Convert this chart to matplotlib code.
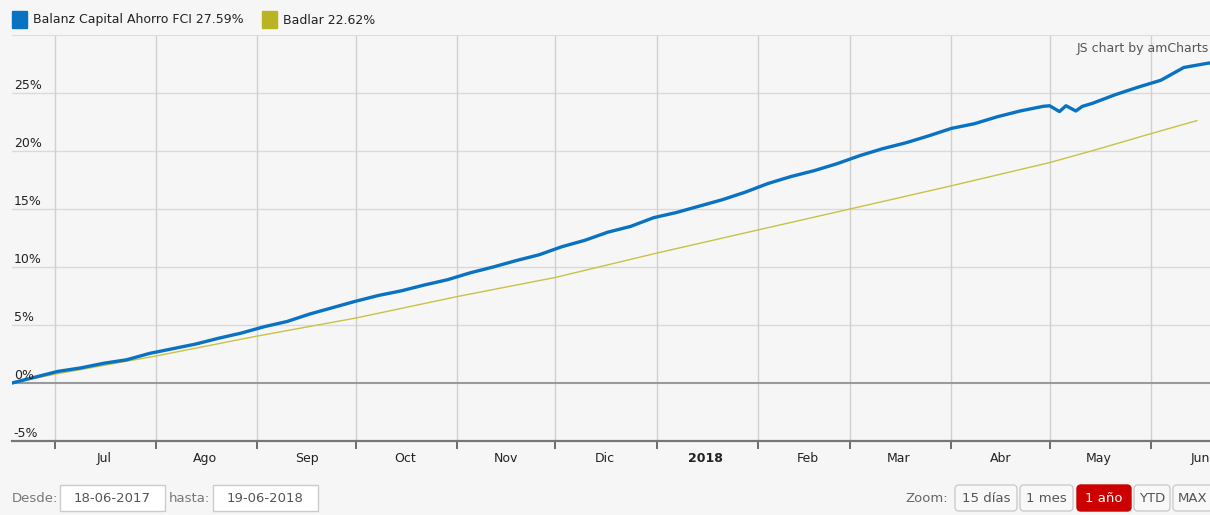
import numpy as np
import pandas as pd
import matplotlib
matplotlib.use("Agg")
import matplotlib.pyplot as plt
import matplotlib.dates as mdates
from matplotlib.patches import FancyBboxPatch, Rectangle
from matplotlib.transforms import blended_transform_factory

# Balanz Capital Ahorro FCI - rendimiento acumulado (%), lecturas semanales
balanz_fechas = [
    "2017-06-18", "2017-06-25", "2017-07-02", "2017-07-09", "2017-07-16", "2017-07-23",
    "2017-07-30", "2017-08-06", "2017-08-13", "2017-08-20", "2017-08-27", "2017-09-03",
    "2017-09-10", "2017-09-17", "2017-09-24", "2017-10-01", "2017-10-08", "2017-10-15",
    "2017-10-22", "2017-10-29", "2017-11-05", "2017-11-12", "2017-11-19", "2017-11-26",
    "2017-12-03", "2017-12-10", "2017-12-17", "2017-12-24", "2017-12-31", "2018-01-07",
    "2018-01-14", "2018-01-21", "2018-01-28", "2018-02-04", "2018-02-11", "2018-02-18",
    "2018-02-25", "2018-03-04", "2018-03-11", "2018-03-18", "2018-03-25", "2018-04-01",
    "2018-04-08", "2018-04-15", "2018-04-22", "2018-04-29", "2018-05-01", "2018-05-04",
    "2018-05-06", "2018-05-09", "2018-05-11", "2018-05-14", "2018-05-21", "2018-05-28",
    "2018-06-04", "2018-06-11", "2018-06-18", "2018-06-19",
]
balanz_valores = [
    0.0, 0.5, 1.0, 1.3, 1.7, 2.0,
    2.55, 2.95, 3.35, 3.85, 4.3, 4.85,
    5.3, 5.95, 6.5, 7.05, 7.55, 7.95,
    8.45, 8.9, 9.5, 10.0, 10.55, 11.05,
    11.75, 12.3, 13.0, 13.5, 14.25, 14.7,
    15.25, 15.8, 16.45, 17.2, 17.8, 18.3,
    18.9, 19.6, 20.2, 20.7, 21.3, 21.95,
    22.35, 22.95, 23.45, 23.85, 23.9, 23.4,
    23.9, 23.45, 23.85, 24.1, 24.85, 25.5,
    26.1, 27.2, 27.55, 27.59,
]

# Badlar - rendimiento acumulado (%)
badlar_fechas = [
    "2017-06-18", "2017-07-01", "2017-08-01", "2017-09-01", "2017-10-01", "2017-11-01",
    "2017-12-01", "2018-01-01", "2018-02-01", "2018-03-01", "2018-04-01", "2018-05-01",
    "2018-05-15", "2018-06-01", "2018-06-15",
]
badlar_valores = [
    0.0, 0.75, 2.33, 4.05, 5.6, 7.45,
    9.1, 11.2, 13.2, 15.0, 17.0, 19.0,
    20.1, 21.5, 22.62,
]

meses = ["Jul", "Ago", "Sep", "Oct", "Nov", "Dic", "2018", "Feb", "Mar", "Abr", "May", "Jun"]
y_ticks = [-5, 0, 5, 10, 15, 20, 25]

fondo = "#f6f6f6"
azul = "#0a72c2"
oliva = "#b8b422"

plt.rcParams["font.family"] = ["DejaVu Sans"]

fig = plt.figure(figsize=(12.10, 5.15), dpi=100, facecolor=fondo)
W, H = 1210, 515
ax = fig.add_axes([12 / W, 1 - 441 / H, 1198 / W, 406 / H])
ax.set_facecolor(fondo)

bx = pd.to_datetime(balanz_fechas)
dx = pd.to_datetime(badlar_fechas)

ax.plot(dx, badlar_valores, color="#c8c245", lw=1.0, zorder=3)
ax.plot(bx, balanz_valores, color=azul, lw=2.4, zorder=4,
        solid_joinstyle="round", solid_capstyle="round")

ax.set_xlim(pd.Timestamp("2017-06-18"), pd.Timestamp("2018-06-19"))
ax.set_ylim(-5, 30)

# grilla
for v in y_ticks:
    if v == 0:
        ax.axhline(v, color="#9a9a9a", lw=1.5, zorder=2)
    elif v != -5:
        ax.axhline(v, color="#dadada", lw=1.0, zorder=1)
ax.set_yticks([])

ax.xaxis.set_major_locator(mdates.MonthLocator())
ax.xaxis.set_major_formatter(plt.NullFormatter())
ax.xaxis.set_minor_locator(mdates.MonthLocator(bymonthday=16))
ax.xaxis.set_minor_formatter(plt.FixedFormatter(meses))
ax.tick_params(axis="x", which="major", direction="out", length=6, width=1.2, color="#555555")
ax.tick_params(axis="x", which="minor", length=0, pad=8, labelsize=9, labelcolor="#222222")
ax.grid(axis="x", which="major", color="#d0d0d0", lw=1.0, zorder=1)
for lab in ax.xaxis.get_minorticklabels():
    if lab.get_text() == "2018":
        lab.set_fontweight("bold")

for s in ["left", "right"]:
    ax.spines[s].set_visible(False)
ax.spines["top"].set_color("#dddddd")
ax.spines["bottom"].set_color("#777777")
ax.spines["bottom"].set_linewidth(1.6)

tr = blended_transform_factory(ax.transAxes, ax.transData)
for v in y_ticks:
    ax.text(0.0015, v + 0.1, f"{v}%", transform=tr, ha="left", va="bottom",
            fontsize=9, color="#222222", zorder=5)

ax.text(0.999, 0.982, "JS chart by amCharts", transform=ax.transAxes, ha="right",
        va="top", fontsize=9, color="#555555")

# capa superior en pixeles para leyenda y controles
ov = fig.add_axes([0, 0, 1, 1], facecolor="none")
ov.set_xlim(0, W)
ov.set_ylim(H, 0)
ov.axis("off")

ov.add_patch(Rectangle((12, 11), 15, 17, color=azul))
ov.text(33, 20, "Balanz Capital Ahorro FCI 27.59%", fontsize=9, va="center", color="#222222")
ov.add_patch(Rectangle((262, 11), 15, 17, color=oliva))
ov.text(283, 20, "Badlar 22.62%", fontsize=9, va="center", color="#222222")

ov.text(12, 498, "Desde:", fontsize=9.5, va="center", color="#777777")
ov.text(169, 498, "hasta:", fontsize=9.5, va="center", color="#777777")
for x0, txt in [(60, "18-06-2017"), (213, "19-06-2018")]:
    ov.add_patch(Rectangle((x0, 485), 105, 26, facecolor="white", edgecolor="#cccccc", lw=1))
    ov.text(x0 + 52, 498, txt, fontsize=9.5, ha="center", va="center", color="#555555")

ov.text(905, 498, "Zoom:", fontsize=9.5, va="center", color="#666666")
botones = [("15 días", 955, 62), ("1 mes", 1020, 53), ("1 año", 1077, 54),
           ("YTD", 1134, 36), ("MAX", 1173, 40)]
for txt, x0, w in botones:
    activo = txt == "1 año"
    ov.add_patch(FancyBboxPatch((x0 + 2, 487), w - 4, 22, boxstyle="round,pad=2,rounding_size=4",
                                facecolor="#cc0000" if activo else "#f8f8f8",
                                edgecolor="#cc0000" if activo else "#cccccc", lw=1))
    ov.text(x0 + w / 2, 498, txt, fontsize=9.5, ha="center", va="center",
            color="white" if activo else "#555555")

fig.savefig("out.png", dpi=100, facecolor=fondo)
